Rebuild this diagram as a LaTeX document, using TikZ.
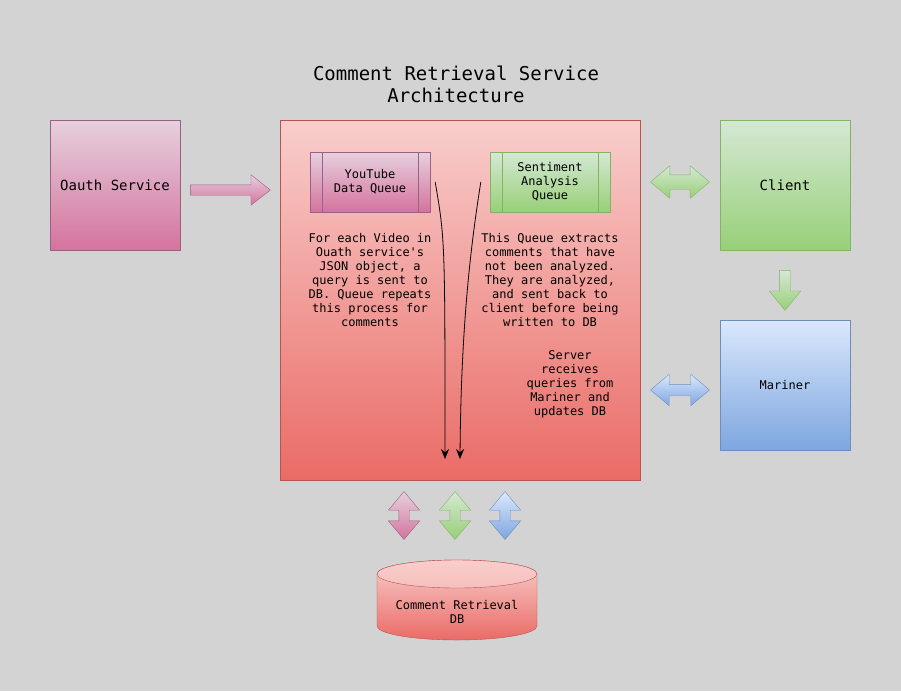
\documentclass[tikz,border=0pt]{standalone}
\usepackage{fontspec}
\setmonofont{DejaVu Sans Mono}
\usetikzlibrary{shapes,arrows.meta,positioning,calc}

\definecolor{bgcol}{HTML}{D3D3D3}
\definecolor{pinkL}{HTML}{E6D0DE}
\definecolor{pinkD}{HTML}{D5739D}
\definecolor{pinkS}{HTML}{996185}
\definecolor{redL}{HTML}{F8CECC}
\definecolor{redD}{HTML}{EA6B66}
\definecolor{redS}{HTML}{B85450}
\definecolor{greenL}{HTML}{D5E8D4}
\definecolor{greenD}{HTML}{97D077}
\definecolor{greenS}{HTML}{82B366}
\definecolor{blueL}{HTML}{DAE8FC}
\definecolor{blueD}{HTML}{7EA6E0}
\definecolor{blueS}{HTML}{6C8EBF}

\begin{document}
\begin{tikzpicture}[x=1pt, y=-1pt,
  every node/.style={font=\ttfamily\fontsize{12}{14}\selectfont, align=center},
  pinkfill/.style={draw=pinkS, top color=pinkL, bottom color=pinkD},
  redfill/.style={draw=redS, top color=redL, bottom color=redD},
  greenfill/.style={draw=greenS, top color=greenL, bottom color=greenD},
  bluefill/.style={draw=blueS, top color=blueL, bottom color=blueD},
  bigtext/.style={font=\ttfamily\fontsize{14}{16}\selectfont},
  box/.style={minimum width=130pt, minimum height=130pt, inner sep=0pt},
  queue/.style={minimum width=120pt, minimum height=60pt, inner sep=0pt},
  harrow/.style={double arrow, inner sep=7pt, minimum height=59pt, minimum width=32pt,
    double arrow head extend=9pt, double arrow tip angle=80},
  varrow/.style={double arrow, shape border rotate=90, inner sep=5pt, minimum height=48pt,
    minimum width=31pt, double arrow head extend=10.5pt, double arrow tip angle=80},
  flow/.style={-{Stealth[length=10pt, width=8pt]}, line width=0.8pt}]
\fill[bgcol] (0,0) rectangle (901,691);

% Title
\node[font=\ttfamily\fontsize{19}{22}\selectfont] (title) at (456,84.5) {Comment Retrieval Service\\Architecture};

% Boxes
\node[pinkfill, box, bigtext] (oauth) at (115,185) {Oauth Service};
\node[redfill, minimum width=360pt, minimum height=360pt, inner sep=0pt] (server) at (460,300) {};
\node[greenfill, box, bigtext] (client) at (785,185) {Client};
\node[bluefill, box] (mariner) at (785,385) {Mariner};

% Queues inside the server
\node[pinkfill, queue] (ytq) at (370,182) {YouTube\\Data Queue};
\node[greenfill, queue] (saq) at (550,182) {Sentiment\\Analysis\\Queue};
\foreach \q/\c in {ytq/pinkS, saq/greenS} {
  \draw[\c] ([xshift=12pt]\q.north west) -- ([xshift=12pt]\q.south west);
  \draw[\c] ([xshift=-12pt]\q.north east) -- ([xshift=-12pt]\q.south east);
}
\node (ytqtext) at (370,280) {For each Video in\\Ouath service's\\JSON object, a\\query is sent to\\DB. Queue repeats\\this process for\\comments};
\node (saqtext) at (550,280) {This Queue extracts\\comments that have\\not been analyzed.\\They are analyzed,\\and sent back to\\client before being\\written to DB};
\node (srvtext) at (570,384) {Server\\receives\\queries from\\Mariner and\\updates DB};

% Flows to DB
\coordinate (ytqend) at (445,459);
\coordinate (saqend) at (460,459);
\draw[flow] ([xshift=5pt]ytq.east) .. controls (445,240) .. (ytqend);
\draw[flow] ([xshift=-9pt]saq.west) .. controls (470,250) and (461,330) .. (saqend);

% Block arrows
\node[pinkfill, single arrow, inner sep=5pt, minimum height=80pt, minimum width=30pt,
  single arrow head extend=10pt, single arrow tip angle=76, right=10pt of oauth, yshift=-5pt] (oauthin) {};
\node[greenfill, harrow, left=10pt of client, yshift=3pt] (clientlink) {};
\node[bluefill, harrow, left=10pt of mariner, yshift=-5pt, inner sep=5.5pt, minimum width=31pt,
  double arrow head extend=10pt] (marinerlink) {};
\node[greenfill, single arrow, shape border rotate=270, inner sep=5.25pt, minimum height=40pt,
  minimum width=31pt, single arrow head extend=10.25pt, single arrow tip angle=78,
  below=20pt of client] (clientdown) {};
\node[pinkfill, varrow, below=11pt of server, xshift=-56pt] (dbpink) {};
\node[greenfill, varrow, below=11pt of server, xshift=-5pt] (dbgreen) {};
\node[bluefill, varrow, below=11pt of server, xshift=45pt] (dbblue) {};

% Database
\shade[redfill] (377,574) -- (377,626) arc[start angle=180, end angle=0, x radius=80, y radius=14]
  -- (537,574) arc[start angle=0, end angle=-180, x radius=80, y radius=14] -- cycle;
\draw[redS, top color=redL, bottom color=redL!85!redD] (457,574) ellipse[x radius=80, y radius=14];
\node (db) at (457,612) {Comment Retrieval\\DB};
\end{tikzpicture}
\end{document}
